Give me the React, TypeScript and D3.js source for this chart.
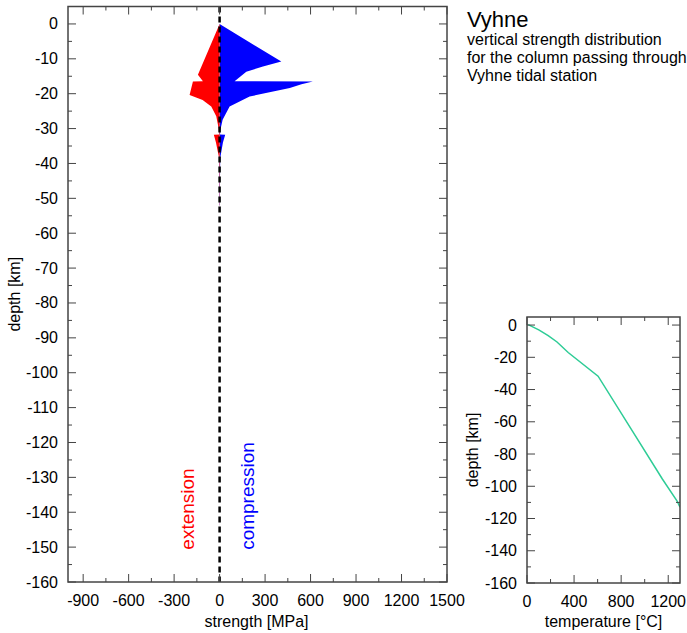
import React from "react";
import * as d3 from "d3";

// strength profile (MPa vs depth km)
const compDepth = [0, -10.8, -12.2, -13.7, -16.4, -16.5, -17.3, -18.4, -20.8, -23.7, -27.5, -30.4, -31.7, -31.8, -34, -37, -38.5, -45, -52, -52.1];
const compVal = [0, 407, 286, 176, 99, 615, 540, 463, 198, 66, 20, 5, 3, 37, 22, 10, 4, 2.5, 2, 0];
const extDepth = [0, -14.6, -16.4, -16.5, -20.4, -21.8, -23.7, -26.5, -29.3, -31.7, -31.8, -34, -37, -38.5, -45, -52, -52.1];
const extVal = [0, -143, -110, -176, -198, -112, -55, -22, -9, -2, -38, -24, -10, -3, -2, -1.5, 0];

// geotherm
const tempVal = [10, 100, 180, 255, 350, 604, 900, 1150, 1274, 1300];
const tempDepth = [0.3, -3, -6.5, -10.5, -17, -31.7, -66.3, -95.5, -109, -113];

const strengthTicks = [-900, -600, -300, 0, 300, 600, 900, 1200, 1500];
const depthTicks = d3.range(0, -161, -10);
const insetDepthTicks = d3.range(0, -161, -20);
const tempTicks = [0, 400, 800, 1200];

const titleLines = ["vertical strength distribution", "for the column passing through", "Vyhne tidal station"];

const FONT = "Liberation Sans, Arial, sans-serif";
const AX = "#444";

export default function App() {
  const x = d3.scaleLinear().domain([-1000, 1500]).range([68, 447]);
  const y = d3.scaleLinear().domain([-160, 5]).range([582, 6.5]);

  const tx = d3.scaleLinear().domain([0, 1300]).range([527, 680]);
  const ty = d3.scaleLinear().domain([-160, 5]).range([583, 317]);

  const comp = compDepth.map((d, i) => ({ d, v: compVal[i] }));
  const ext = extDepth.map((d, i) => ({ d, v: extVal[i] }));
  const temp = tempDepth.map((d, i) => ({ d, v: tempVal[i] }));

  const area = d3.area<{ d: number; v: number }>()
    .x0(() => x(0))
    .x1(p => x(p.v))
    .y(p => y(p.d));

  const tline = d3.line<{ d: number; v: number }>()
    .x(p => tx(p.v))
    .y(p => ty(p.d));

  const [x0, x1] = x.range();
  const [yb, yt] = y.range();
  const [tx0, tx1] = tx.range();
  const [tyb, tyt] = ty.range();

  const strMinor = d3.range(-1050, 1501, 150).filter(v => v > -1000);
  const depMinor = d3.range(0, -161, -5);
  const tMinor = d3.range(0, 1301, 200);
  const tdMinor = d3.range(0, -161, -10);

  return (
    <svg width={687} height={633} style={{ position: "absolute", left: 0, top: 0, background: "#fff" }} fontFamily={FONT}>
      {/* main strength chart */}
      <g clipPath="url(#mainclip)">
        <path d={area(comp) || ""} fill="#0000ff" />
        <path d={area(ext) || ""} fill="#ff0000" />
      </g>
      <line x1={x(0)} x2={x(0)} y1={yt} y2={yb} stroke="#000" strokeWidth={2.5} strokeDasharray="6,4" />

      {strMinor.map(v => {
        const major = strengthTicks.includes(v);
        const L = major ? 8 : 4;
        return (
          <g key={"sx" + v} stroke={AX} strokeWidth={1}>
            <line x1={x(v)} x2={x(v)} y1={yb} y2={yb - L} />
            <line x1={x(v)} x2={x(v)} y1={yt} y2={yt + L} />
          </g>
        );
      })}
      {depMinor.map(v => {
        const major = v % 10 === 0;
        const L = major ? 8 : 4;
        return (
          <g key={"sy" + v} stroke={AX} strokeWidth={1}>
            <line x1={x0} x2={x0 + L} y1={y(v)} y2={y(v)} />
            <line x1={x1} x2={x1 - L} y1={y(v)} y2={y(v)} />
          </g>
        );
      })}
      <rect x={x0} y={yt} width={x1 - x0} height={yb - yt} fill="none" stroke={AX} strokeWidth={1.5} />

      {strengthTicks.map(v => (
        <text key={"sxl" + v} x={x(v)} y={606} textAnchor="middle" fontSize={16} fill="#000">{v}</text>
      ))}
      {depthTicks.map(v => (
        <text key={"syl" + v} x={58} y={y(v) + 5.5} textAnchor="end" fontSize={16} fill="#000">{v}</text>
      ))}
      <text x={(x0 + x1) / 2 - 1} y={627} textAnchor="middle" fontSize={16} fill="#000">strength [MPa]</text>
      <text transform={`translate(20,${(yt + yb) / 2}) rotate(-90)`} textAnchor="middle" fontSize={16} fill="#000">depth [km]</text>

      <text transform={`translate(194,509) rotate(-90)`} textAnchor="middle" fontSize={19} fill="#ff0000">extension</text>
      <text transform={`translate(254,496) rotate(-90)`} textAnchor="middle" fontSize={19} fill="#0000ff">compression</text>

      {/* title */}
      <text x={467} y={27} fontSize={22} fill="#000">Vyhne</text>
      {titleLines.map((t, i) => (
        <text key={t} x={467} y={45 + i * 18} fontSize={16} fill="#000">{t}</text>
      ))}

      {/* inset geotherm */}
      <g clipPath="url(#insetclip)">
        <path d={tline(temp) || ""} fill="none" stroke="#2ecc96" strokeWidth={1.5} />
      </g>
      {tMinor.map(v => {
        const major = v % 400 === 0;
        const L = major ? 8 : 4;
        return (
          <g key={"tx" + v} stroke={AX} strokeWidth={1}>
            <line x1={tx(v)} x2={tx(v)} y1={tyb} y2={tyb - L} />
            <line x1={tx(v)} x2={tx(v)} y1={tyt} y2={tyt + L} />
          </g>
        );
      })}
      {tdMinor.map(v => {
        const major = v % 20 === 0;
        const L = major ? 8 : 4;
        return (
          <g key={"ty" + v} stroke={AX} strokeWidth={1}>
            <line x1={tx0} x2={tx0 + L} y1={ty(v)} y2={ty(v)} />
            <line x1={tx1} x2={tx1 - L} y1={ty(v)} y2={ty(v)} />
          </g>
        );
      })}
      <rect x={tx0} y={tyt} width={tx1 - tx0} height={tyb - tyt} fill="none" stroke={AX} strokeWidth={1.5} />
      {tempTicks.map(v => (
        <text key={"txl" + v} x={tx(v)} y={607} textAnchor="middle" fontSize={16} fill="#000">{v}</text>
      ))}
      {insetDepthTicks.map(v => (
        <text key={"tyl" + v} x={517} y={ty(v) + 5.5} textAnchor="end" fontSize={16} fill="#000">{v}</text>
      ))}
      <text x={(tx0 + tx1) / 2} y={627} textAnchor="middle" fontSize={16} fill="#000">temperature [°C]</text>
      <text transform={`translate(478,${(tyt + tyb) / 2}) rotate(-90)`} textAnchor="middle" fontSize={16} fill="#000">depth [km]</text>

      <defs>
        <clipPath id="mainclip"><rect x={x0} y={yt} width={x1 - x0} height={yb - yt} /></clipPath>
        <clipPath id="insetclip"><rect x={tx0} y={tyt} width={tx1 - tx0} height={tyb - tyt} /></clipPath>
      </defs>
    </svg>
  );
}
